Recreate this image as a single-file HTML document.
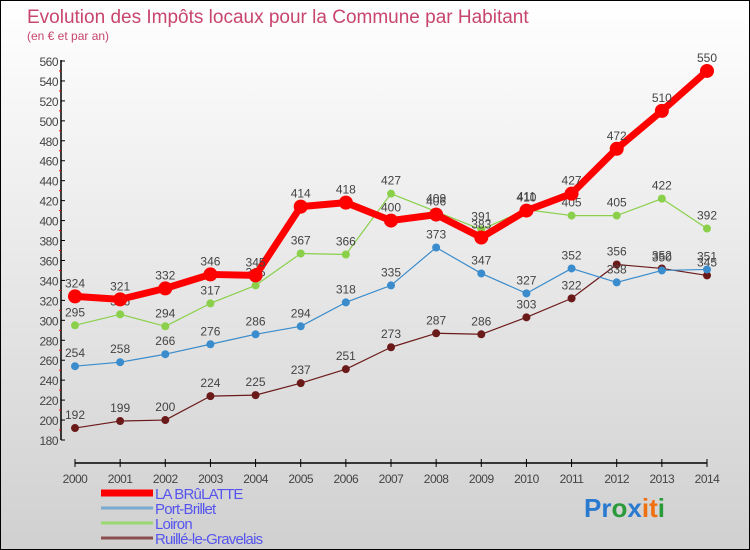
<!DOCTYPE html>
<html><head><meta charset="utf-8"><style>
body{margin:0}
#c{width:748px;height:548px;border:1px solid #000;background:linear-gradient(#fff,#d0d0d0);position:relative;font-family:"Liberation Sans",sans-serif;overflow:hidden}
</style></head><body>
<div id="c">
<svg id="s" width="748" height="548"></svg>
</div>
<script>
const years=[2000,2001,2002,2003,2004,2005,2006,2007,2008,2009,2010,2011,2012,2013,2014];
const brulatte=[324,321,332,346,345,414,418,400,406,383,410,427,472,510,550];
const portBrillet=[254,258,266,276,286,294,318,335,373,347,327,352,338,350,351];
const loiron=[295,306,294,317,335,367,366,427,409,391,411,405,405,422,392];
const ruille=[192,199,200,224,225,237,251,273,287,286,303,322,356,352,345];
const yTicks=[180,200,220,240,260,280,300,320,340,360,380,400,420,440,460,480,500,520,540,560];
const NS="http://www.w3.org/2000/svg";
const s=document.getElementById('s');
function x(i){return 74+i*(632/14);}
function y(v){return 439-(v-180)*(379/380);}
function el(t,a,txt){const e=document.createElementNS(NS,t);for(const k in a)e.setAttribute(k,a[k]);if(txt!==undefined)e.textContent=txt;s.appendChild(e);return e;}
let e;
e=el('text',{x:26,y:22,'font-size':19,fill:'#c8456e'},'Evolution des Impôts locaux pour la Commune par Habitant');

e=el('text',{x:26,y:39,'font-size':12,fill:'#c8456e'},'(en € et par an)');

e=el('line',{x1:60,y1:y(560)-1,x2:60,y2:y(180),stroke:'#000','stroke-width':1.5});

yTicks.forEach((v,i)=>{
 e=el('line',{x1:60,y1:y(v),x2:64,y2:y(v),stroke:'#000'});
 
 if(i<yTicks.length-1){e=el('line',{x1:58,y1:y(v+10),x2:60,y2:y(v+10),stroke:'red'});
 }
 e=el('text',{x:57,y:y(v)+5,'font-size':12,fill:'#444','text-anchor':'end','letter-spacing':'-0.5'},v);
 
});
e=el('line',{x1:74,y1:462,x2:706,y2:462,stroke:'#000','stroke-width':1.5});

years.forEach((yr,i)=>{
 e=el('line',{x1:x(i),y1:458,x2:x(i),y2:466,stroke:'#000'});
 
 e=el('text',{x:x(i),y:482,'font-size':12,fill:'#444','text-anchor':'middle','letter-spacing':'-0.5'},yr);
 
});
function series(vals,color,w,r,name){
 e=el('polyline',{points:vals.map((v,i)=>x(i)+','+y(v)).join(' '),fill:'none',stroke:color,'stroke-width':w,'stroke-linejoin':'round'});
 
 vals.forEach((v,i)=>{
  e=el('circle',{cx:x(i),cy:y(v),r:r,fill:color});
  
  e=el('text',{x:x(i),y:y(v)-9,'font-size':12,fill:'#444','text-anchor':'middle'},v);
  
 });
}
series(ruille,'#6b1a1a',1.2,4,'ruille');
series(portBrillet,'#3a8ccc',1.2,4,'port-brillet');
series(loiron,'#8ad04a',1.2,4,'loiron');
series(brulatte,'#f00',7,7,'brulatte');
const leg=[['LA BRûLATTE','#f00',7],['Port-Brillet','#7aaad0',3],['Loiron','#9ad870',3],['Ruillé-le-Gravelais','#8a5050',3]];
leg.forEach((l,i)=>{
 const ly=492+i*15;
 e=el('line',{x1:100,y1:ly,x2:152,y2:ly,stroke:l[1],'stroke-width':l[2]});
 
 e=el('text',{x:154,y:ly+6,'font-size':15,fill:'#5555ee','letter-spacing':'-0.8'},l[0]);
 
});
const logo=[['P','#2a7ad0'],['r','#2a7ad0'],['o','#2a9a3a'],['x','#2a7ad0'],['i','#f07010'],['t','#f07010'],['i','#2a9a3a']];
let lx=583;
e=el('text',{x:583,y:516,'font-size':26,'font-weight':'bold'});

logo.forEach(c=>{const t=document.createElementNS(NS,'tspan');t.setAttribute('fill',c[1]);t.textContent=c[0];e.appendChild(t);});
</script>
</body></html>
